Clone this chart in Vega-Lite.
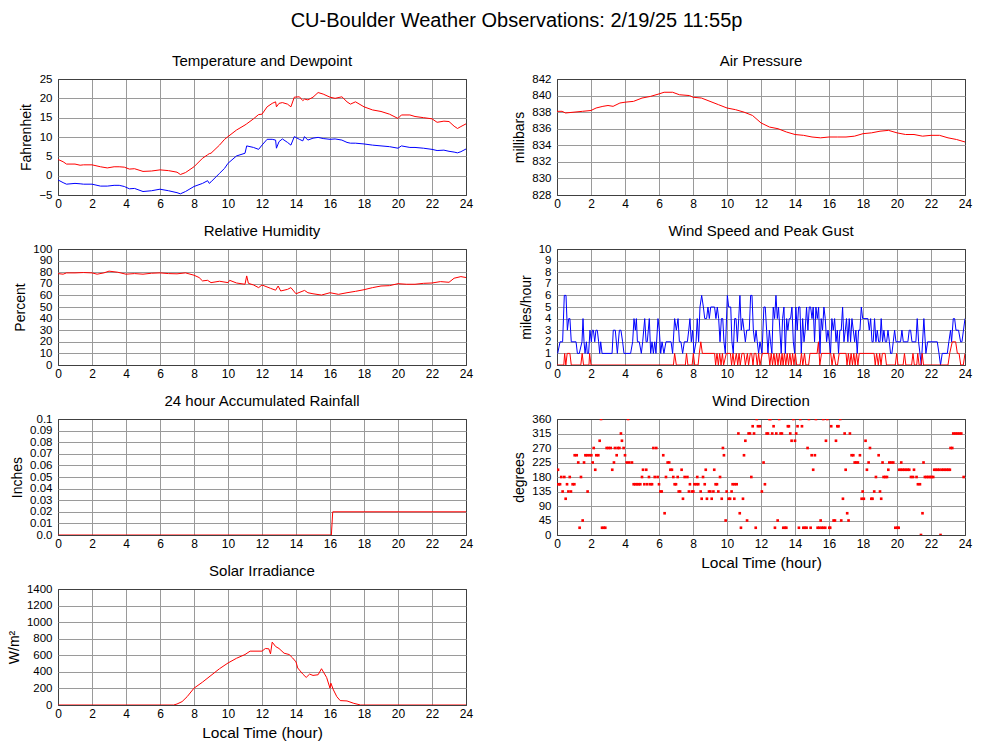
{
"$schema": "https://vega.github.io/schema/vega-lite/v6.json",
"title": {"text": "CU-Boulder Weather Observations: 2/19/25 11:55p", "fontSize": 20, "fontWeight": "normal", "anchor": "middle", "offset": 23, "dx": 27},
"padding": {"left": 6, "top": 10, "right": 5, "bottom": 5},
"columns": 2,
"spacing": {"row": 54, "column": 91},
"bounds": "flush",
"config": {
  "font": "Liberation Sans",
  "view": {"stroke": "#404040", "strokeWidth": 1},
  "axis": {"grid": true, "gridOpacity": 1, "gridWidth": 1, "ticks": false, "domain": false, "labelFontSize": 11.5, "labelColor": "#000", "labelPadding": 6, "labelFlush": false, "labelOverlap": false, "labelBaseline": "middle", "titleFontSize": 14, "titleFontWeight": "normal", "titleColor": "#000", "titlePadding": 5},
  "axisX": {"labelPadding": 3, "labelBaseline": "top", "labelFontSize": 12},
  "title": {"fontSize": 15, "fontWeight": "normal", "color": "#000", "offset": 4}
},
"datasets": {
"temp": [
{"h":0,"t":4.2,"d":-1.1},{"h":0.3,"t":3.6,"d":-1.8},{"h":0.5,"t":3.0,"d":-2.2},{"h":1.0,"t":3.0,"d":-2.0},{"h":1.3,"t":2.7,"d":-2.1},{"h":1.5,"t":2.8,"d":-2.2},{"h":2.0,"t":2.8,"d":-2.2},{"h":2.5,"t":2.3,"d":-2.7},{"h":2.9,"t":2.0,"d":-2.7},{"h":3.3,"t":2.3,"d":-2.5},{"h":3.6,"t":2.3,"d":-2.5},{"h":3.9,"t":2.2,"d":-2.8},{"h":4.2,"t":1.7,"d":-3.4},{"h":4.5,"t":1.8,"d":-3.3},{"h":5.0,"t":1.1,"d":-4.1},{"h":5.5,"t":1.2,"d":-3.9},{"h":6.0,"t":1.5,"d":-3.5},{"h":6.5,"t":1.3,"d":-3.9},{"h":7.0,"t":0.9,"d":-4.4},{"h":7.2,"t":0.3,"d":-4.7},{"h":7.5,"t":0.8,"d":-4.1},{"h":8.0,"t":2.3,"d":-2.8},{"h":8.5,"t":4.5,"d":-2.0},{"h":8.8,"t":5.4,"d":-1.3},{"h":8.9,"t":5.7,"d":-2.0},{"h":9.0,"t":5.8,"d":-1.6},{"h":9.5,"t":7.9,"d":0.6},{"h":9.8,"t":9.4,"d":1.9},{"h":10.0,"t":10.1,"d":3.2},{"h":10.5,"t":11.8,"d":5.1},{"h":11.0,"t":13.1,"d":5.8},{"h":11.1,"t":13.4,"d":7.7},{"h":11.5,"t":14.7,"d":7.3},{"h":11.8,"t":15.8,"d":6.8},{"h":12.0,"t":15.9,"d":7.9},{"h":12.3,"t":17.8,"d":9.4},{"h":12.6,"t":18.7,"d":9.4},{"h":12.8,"t":19.1,"d":9.2},{"h":12.85,"t":17.8,"d":7.1},{"h":13.0,"t":18.7,"d":8.8},{"h":13.2,"t":18.9,"d":9.5},{"h":13.5,"t":18.5,"d":8.6},{"h":13.7,"t":17.8,"d":7.9},{"h":13.9,"t":20.3,"d":10.1},{"h":14.2,"t":20.4,"d":9.4},{"h":14.4,"t":19.4,"d":9.0},{"h":14.5,"t":19.8,"d":10.1},{"h":14.7,"t":19.6,"d":9.2},{"h":15.0,"t":20.3,"d":9.7},{"h":15.3,"t":21.5,"d":9.9},{"h":15.6,"t":21.1,"d":9.6},{"h":16.0,"t":20.3,"d":9.4},{"h":16.3,"t":20.0,"d":9.5},{"h":16.7,"t":20.4,"d":9.2},{"h":17.0,"t":19.1,"d":8.6},{"h":17.2,"t":18.5,"d":8.4},{"h":17.5,"t":19.1,"d":8.4},{"h":18.0,"t":17.8,"d":8.2},{"h":18.5,"t":17.0,"d":7.9},{"h":19.0,"t":16.6,"d":7.7},{"h":19.5,"t":15.9,"d":7.5},{"h":20.0,"t":14.8,"d":7.1},{"h":20.2,"t":15.7,"d":7.7},{"h":20.7,"t":15.7,"d":7.3},{"h":21.0,"t":15.3,"d":7.3},{"h":21.5,"t":15.0,"d":7.1},{"h":22.0,"t":14.7,"d":6.8},{"h":22.3,"t":13.8,"d":6.5},{"h":22.7,"t":14.1,"d":6.6},{"h":23.0,"t":14.0,"d":6.3},{"h":23.3,"t":12.8,"d":6.1},{"h":23.5,"t":12.2,"d":5.9},{"h":23.7,"t":12.7,"d":6.2},{"h":24.0,"t":13.4,"d":6.9}
],
"pres": [
{"h":0,"p":838.1},{"h":0.3,"p":838.1},{"h":0.5,"p":837.9},{"h":1.0,"p":838.0},{"h":1.5,"p":838.1},{"h":2.0,"p":838.2},{"h":2.3,"p":838.5},{"h":2.7,"p":838.7},{"h":3.0,"p":838.8},{"h":3.3,"p":838.7},{"h":3.7,"p":839.1},{"h":4.0,"p":839.2},{"h":4.5,"p":839.3},{"h":5.0,"p":839.7},{"h":5.5,"p":839.9},{"h":6.0,"p":840.2},{"h":6.3,"p":840.4},{"h":6.8,"p":840.4},{"h":7.2,"p":840.1},{"h":7.8,"p":840.0},{"h":8.0,"p":839.8},{"h":8.5,"p":839.7},{"h":9.0,"p":839.3},{"h":9.5,"p":838.9},{"h":10.0,"p":838.5},{"h":10.5,"p":838.3},{"h":11.0,"p":838.0},{"h":11.5,"p":837.6},{"h":12.0,"p":836.7},{"h":12.5,"p":836.2},{"h":13.0,"p":836.0},{"h":13.5,"p":835.6},{"h":14.0,"p":835.3},{"h":14.5,"p":835.2},{"h":15.0,"p":835.0},{"h":15.5,"p":834.9},{"h":16.0,"p":835.0},{"h":16.5,"p":835.0},{"h":17.0,"p":835.0},{"h":17.5,"p":835.1},{"h":18.0,"p":835.4},{"h":18.5,"p":835.5},{"h":19.0,"p":835.7},{"h":19.5,"p":835.8},{"h":20.0,"p":835.5},{"h":20.5,"p":835.3},{"h":21.0,"p":835.3},{"h":21.5,"p":835.1},{"h":22.0,"p":835.2},{"h":22.5,"p":835.2},{"h":23.0,"p":834.9},{"h":23.5,"p":834.7},{"h":24.0,"p":834.4}
],
"rh": [
{"h":0,"r":78.8},{"h":0.3,"r":78.3},{"h":0.5,"r":79.4},{"h":1.0,"r":79.4},{"h":1.5,"r":79.7},{"h":2.0,"r":79.4},{"h":2.3,"r":78.3},{"h":2.7,"r":79.4},{"h":3.0,"r":80.9},{"h":3.5,"r":80.0},{"h":4.0,"r":78.3},{"h":4.5,"r":78.8},{"h":5.0,"r":78.3},{"h":5.5,"r":79.1},{"h":6.0,"r":79.4},{"h":6.5,"r":78.8},{"h":7.0,"r":78.6},{"h":7.5,"r":79.4},{"h":8.0,"r":77.4},{"h":8.3,"r":75.4},{"h":8.5,"r":72.5},{"h":8.8,"r":73.0},{"h":9.0,"r":71.0},{"h":9.5,"r":72.2},{"h":10.0,"r":71.0},{"h":10.1,"r":73.0},{"h":10.5,"r":70.7},{"h":11.0,"r":69.6},{"h":11.1,"r":76.8},{"h":11.2,"r":70.4},{"h":11.5,"r":69.0},{"h":11.8,"r":66.7},{"h":12.0,"r":69.0},{"h":12.5,"r":66.1},{"h":12.8,"r":64.5},{"h":12.95,"r":68.1},{"h":13.1,"r":63.8},{"h":13.5,"r":65.2},{"h":13.7,"r":66.7},{"h":14.0,"r":61.4},{"h":14.5,"r":64.3},{"h":14.7,"r":62.3},{"h":15.0,"r":61.4},{"h":15.5,"r":60.3},{"h":16.0,"r":62.3},{"h":16.5,"r":60.9},{"h":17.0,"r":62.3},{"h":17.5,"r":63.5},{"h":18.0,"r":64.9},{"h":18.5,"r":66.7},{"h":19.0,"r":68.1},{"h":19.5,"r":68.4},{"h":20.0,"r":70.1},{"h":20.5,"r":69.6},{"h":21.0,"r":69.6},{"h":21.5,"r":70.4},{"h":22.0,"r":70.7},{"h":22.5,"r":71.9},{"h":23.0,"r":71.3},{"h":23.3,"r":74.8},{"h":23.7,"r":76.2},{"h":24.0,"r":75.4}
],
"gust": [
{"h":0.04,"v":1},{"h":0.18,"v":2},{"h":0.33,"v":2},{"h":0.43,"v":6},{"h":0.53,"v":6},{"h":0.61,"v":3},{"h":0.69,"v":4},{"h":0.76,"v":4},{"h":0.84,"v":2},{"h":1.12,"v":2},{"h":1.2,"v":1},{"h":1.31,"v":1},{"h":1.47,"v":2},{"h":1.53,"v":4},{"h":1.59,"v":2},{"h":1.65,"v":1},{"h":1.73,"v":2},{"h":1.78,"v":1},{"h":1.86,"v":1},{"h":1.94,"v":3},{"h":2.02,"v":2},{"h":2.08,"v":3},{"h":2.14,"v":3},{"h":2.22,"v":2},{"h":2.29,"v":3},{"h":2.37,"v":3},{"h":2.45,"v":2},{"h":2.51,"v":1},{"h":2.57,"v":2},{"h":2.65,"v":1},{"h":3.24,"v":1},{"h":3.31,"v":3},{"h":3.43,"v":3},{"h":3.55,"v":1},{"h":3.67,"v":3},{"h":3.76,"v":3},{"h":3.86,"v":2},{"h":3.94,"v":1},{"h":4.33,"v":1},{"h":4.45,"v":2},{"h":4.53,"v":4},{"h":4.61,"v":3},{"h":4.67,"v":4},{"h":4.73,"v":2},{"h":4.84,"v":2},{"h":4.96,"v":1},{"h":5.04,"v":2},{"h":5.16,"v":4},{"h":5.24,"v":2},{"h":5.31,"v":2},{"h":5.43,"v":4},{"h":5.51,"v":1},{"h":5.59,"v":2},{"h":5.67,"v":1},{"h":5.75,"v":2},{"h":5.82,"v":1},{"h":5.94,"v":4},{"h":6.02,"v":3},{"h":6.1,"v":1},{"h":6.18,"v":2},{"h":6.29,"v":1},{"h":6.41,"v":2},{"h":6.71,"v":2},{"h":6.8,"v":1},{"h":6.92,"v":4},{"h":7.02,"v":3},{"h":7.12,"v":4},{"h":7.2,"v":2},{"h":7.29,"v":2},{"h":7.39,"v":1},{"h":7.49,"v":2},{"h":7.67,"v":2},{"h":7.75,"v":3},{"h":7.82,"v":4},{"h":7.9,"v":2},{"h":7.98,"v":3},{"h":8.06,"v":1},{"h":8.18,"v":2},{"h":8.25,"v":4},{"h":8.33,"v":2},{"h":8.41,"v":5},{"h":8.51,"v":6},{"h":8.61,"v":5},{"h":8.69,"v":4},{"h":8.8,"v":4},{"h":8.88,"v":5},{"h":8.96,"v":4},{"h":9.04,"v":5},{"h":9.27,"v":5},{"h":9.35,"v":4},{"h":9.43,"v":5},{"h":9.51,"v":4},{"h":9.59,"v":2},{"h":9.67,"v":4},{"h":9.75,"v":4},{"h":9.82,"v":2},{"h":9.9,"v":1},{"h":10.02,"v":6},{"h":10.1,"v":5},{"h":10.22,"v":5},{"h":10.29,"v":2},{"h":10.37,"v":1},{"h":10.45,"v":4},{"h":10.53,"v":4},{"h":10.61,"v":2},{"h":10.69,"v":4},{"h":10.76,"v":6},{"h":10.84,"v":3},{"h":10.92,"v":4},{"h":11.0,"v":3},{"h":11.08,"v":2},{"h":11.16,"v":3},{"h":11.31,"v":3},{"h":11.39,"v":6},{"h":11.47,"v":6},{"h":11.55,"v":3},{"h":11.63,"v":2},{"h":11.71,"v":3},{"h":11.78,"v":2},{"h":11.86,"v":1},{"h":11.94,"v":2},{"h":12.06,"v":1},{"h":12.17,"v":5},{"h":12.25,"v":5},{"h":12.33,"v":3},{"h":12.41,"v":1},{"h":12.49,"v":3},{"h":12.56,"v":2},{"h":12.64,"v":1},{"h":12.72,"v":5},{"h":12.8,"v":4},{"h":12.88,"v":6},{"h":12.96,"v":4},{"h":13.03,"v":5},{"h":13.11,"v":3},{"h":13.19,"v":1},{"h":13.27,"v":4},{"h":13.35,"v":5},{"h":13.43,"v":1},{"h":13.51,"v":4},{"h":13.58,"v":3},{"h":13.66,"v":4},{"h":13.74,"v":4},{"h":13.82,"v":5},{"h":13.9,"v":2},{"h":13.98,"v":1},{"h":14.05,"v":5},{"h":14.13,"v":3},{"h":14.21,"v":5},{"h":14.29,"v":5},{"h":14.37,"v":1},{"h":14.45,"v":4},{"h":14.53,"v":2},{"h":14.6,"v":3},{"h":14.68,"v":5},{"h":14.76,"v":3},{"h":14.84,"v":5},{"h":14.92,"v":5},{"h":15.0,"v":4},{"h":15.07,"v":5},{"h":15.15,"v":2},{"h":15.23,"v":5},{"h":15.31,"v":4},{"h":15.39,"v":5},{"h":15.47,"v":1},{"h":15.54,"v":4},{"h":15.62,"v":3},{"h":15.7,"v":5},{"h":15.78,"v":4},{"h":15.86,"v":2},{"h":15.94,"v":3},{"h":16.02,"v":2},{"h":16.09,"v":1},{"h":16.17,"v":4},{"h":16.25,"v":3},{"h":16.33,"v":4},{"h":16.41,"v":2},{"h":16.49,"v":3},{"h":16.56,"v":1},{"h":16.64,"v":3},{"h":16.72,"v":3},{"h":16.8,"v":5},{"h":16.88,"v":2},{"h":16.96,"v":3},{"h":17.03,"v":4},{"h":17.11,"v":2},{"h":17.19,"v":4},{"h":17.27,"v":2},{"h":17.35,"v":4},{"h":17.43,"v":3},{"h":17.51,"v":2},{"h":17.58,"v":3},{"h":17.66,"v":1},{"h":17.74,"v":3},{"h":17.82,"v":3},{"h":17.9,"v":5},{"h":17.98,"v":4},{"h":18.05,"v":4},{"h":18.29,"v":4},{"h":18.37,"v":3},{"h":18.45,"v":4},{"h":18.53,"v":2},{"h":18.6,"v":2},{"h":18.68,"v":4},{"h":18.76,"v":2},{"h":18.84,"v":3},{"h":18.92,"v":2},{"h":19.0,"v":2},{"h":19.07,"v":4},{"h":19.15,"v":2},{"h":19.23,"v":3},{"h":19.31,"v":2},{"h":19.39,"v":2},{"h":19.47,"v":3},{"h":19.55,"v":2},{"h":19.62,"v":1},{"h":19.7,"v":1},{"h":19.78,"v":2},{"h":19.86,"v":3},{"h":19.94,"v":2},{"h":20.21,"v":2},{"h":20.29,"v":3},{"h":20.37,"v":2},{"h":20.64,"v":2},{"h":20.72,"v":3},{"h":20.8,"v":3},{"h":20.88,"v":2},{"h":21.11,"v":2},{"h":21.19,"v":4},{"h":21.27,"v":2},{"h":21.35,"v":1},{"h":21.43,"v":0},{"h":21.58,"v":4},{"h":21.7,"v":1},{"h":21.8,"v":2},{"h":22.37,"v":2},{"h":22.47,"v":1},{"h":22.56,"v":0},{"h":22.66,"v":1},{"h":22.96,"v":1},{"h":23.05,"v":2},{"h":23.15,"v":3},{"h":23.21,"v":2},{"h":23.31,"v":4},{"h":23.39,"v":4},{"h":23.47,"v":3},{"h":23.62,"v":3},{"h":23.74,"v":2},{"h":23.82,"v":2},{"h":24.0,"v":4}
],
"speed": [
{"h":0,"v":0},{"h":0.4,"v":0},{"h":0.45,"v":1},{"h":0.52,"v":0},{"h":0.6,"v":1},{"h":0.76,"v":1},{"h":0.84,"v":0},{"h":1.4,"v":0},{"h":1.48,"v":1},{"h":1.56,"v":0},{"h":1.88,"v":0},{"h":1.92,"v":1},{"h":2.0,"v":0},{"h":6.85,"v":0},{"h":6.92,"v":1},{"h":7.02,"v":0},{"h":7.55,"v":0},{"h":7.62,"v":1},{"h":7.7,"v":0},{"h":7.95,"v":0},{"h":8.02,"v":1},{"h":8.1,"v":0},{"h":8.3,"v":0},{"h":8.37,"v":1},{"h":8.46,"v":2},{"h":8.55,"v":1},{"h":9.27,"v":1},{"h":9.33,"v":0},{"h":9.41,"v":1},{"h":9.49,"v":0},{"h":9.57,"v":1},{"h":9.65,"v":0},{"h":9.73,"v":1},{"h":9.8,"v":0},{"h":9.96,"v":1},{"h":10.2,"v":1},{"h":10.27,"v":0},{"h":10.35,"v":1},{"h":10.43,"v":0},{"h":10.55,"v":1},{"h":10.63,"v":0},{"h":10.71,"v":1},{"h":10.78,"v":0},{"h":10.88,"v":1},{"h":11.0,"v":1},{"h":11.08,"v":0},{"h":11.2,"v":1},{"h":11.27,"v":0},{"h":11.37,"v":1},{"h":11.45,"v":1},{"h":11.53,"v":0},{"h":11.6,"v":1},{"h":11.7,"v":1},{"h":11.78,"v":0},{"h":11.86,"v":1},{"h":11.94,"v":0},{"h":12.08,"v":1},{"h":12.45,"v":1},{"h":12.52,"v":0},{"h":12.6,"v":1},{"h":12.68,"v":0},{"h":12.76,"v":1},{"h":12.84,"v":0},{"h":12.92,"v":1},{"h":13.0,"v":0},{"h":13.08,"v":1},{"h":13.16,"v":0},{"h":13.24,"v":1},{"h":13.3,"v":0},{"h":13.38,"v":1},{"h":13.46,"v":0},{"h":13.54,"v":1},{"h":13.62,"v":0},{"h":13.7,"v":1},{"h":13.78,"v":0},{"h":13.86,"v":1},{"h":13.94,"v":0},{"h":14.02,"v":1},{"h":14.1,"v":0},{"h":14.3,"v":0},{"h":14.38,"v":1},{"h":14.46,"v":0},{"h":14.56,"v":1},{"h":14.64,"v":0},{"h":14.8,"v":0},{"h":14.88,"v":1},{"h":15.3,"v":1},{"h":15.38,"v":2},{"h":15.46,"v":0},{"h":15.56,"v":1},{"h":16.1,"v":1},{"h":16.18,"v":0},{"h":16.28,"v":1},{"h":16.4,"v":0},{"h":16.5,"v":0},{"h":16.6,"v":1},{"h":17.0,"v":1},{"h":17.06,"v":0},{"h":17.14,"v":1},{"h":17.22,"v":0},{"h":17.3,"v":1},{"h":17.38,"v":0},{"h":17.46,"v":1},{"h":17.54,"v":0},{"h":17.62,"v":1},{"h":17.7,"v":0},{"h":17.78,"v":1},{"h":18.65,"v":1},{"h":18.72,"v":0},{"h":18.8,"v":1},{"h":18.9,"v":0},{"h":18.98,"v":1},{"h":19.06,"v":0},{"h":19.14,"v":1},{"h":19.3,"v":1},{"h":19.38,"v":0},{"h":19.9,"v":0},{"h":19.98,"v":1},{"h":20.06,"v":0},{"h":20.36,"v":0},{"h":20.44,"v":1},{"h":20.52,"v":0},{"h":20.86,"v":0},{"h":20.94,"v":1},{"h":21.02,"v":0},{"h":21.16,"v":0},{"h":21.22,"v":1},{"h":21.3,"v":0},{"h":21.42,"v":0},{"h":21.48,"v":1},{"h":21.56,"v":0},{"h":23.0,"v":0},{"h":23.1,"v":1},{"h":23.25,"v":2},{"h":23.45,"v":2},{"h":23.55,"v":1},{"h":23.65,"v":1},{"h":23.75,"v":0},{"h":23.9,"v":0},{"h":24.0,"v":1}
],
"rain": [
{"h":0,"r":0},{"h":16.08,"r":0},{"h":16.16,"r":0.02},{"h":24,"r":0.02}
],
"dir": [
{"h":2.59,"d":360},{"h":4.18,"d":360},{"h":11.75,"d":360},{"h":12.49,"d":360},{"h":12.56,"d":360},{"h":13.07,"d":360},{"h":13.9,"d":360},{"h":14.31,"d":360},{"h":14.82,"d":360},{"h":15.23,"d":360},{"h":15.66,"d":360},{"h":15.9,"d":360},{"h":16.66,"d":360},
{"h":11.51,"d":337.5},{"h":11.82,"d":337.5},{"h":11.94,"d":337.5},{"h":12.74,"d":337.5},{"h":13.58,"d":337.5},{"h":13.64,"d":337.5},{"h":14.15,"d":337.5},{"h":14.41,"d":337.5},{"h":16.13,"d":337.5},{"h":16.49,"d":337.5},{"h":16.56,"d":337.5},
{"h":3.76,"d":315},{"h":10.67,"d":315},{"h":11.27,"d":315},{"h":11.35,"d":315},{"h":11.59,"d":315},{"h":12.33,"d":315},{"h":12.41,"d":315},{"h":12.66,"d":315},{"h":12.9,"d":315},{"h":13.15,"d":315},{"h":13.23,"d":315},{"h":13.72,"d":315},{"h":14.07,"d":315},{"h":16.92,"d":315},{"h":17.23,"d":315},{"h":23.31,"d":315},{"h":23.43,"d":315},{"h":23.54,"d":315},{"h":23.66,"d":315},{"h":23.78,"d":315},
{"h":2.51,"d":292.5},{"h":3.82,"d":292.5},{"h":11.08,"d":292.5},{"h":13.8,"d":292.5},{"h":14.0,"d":292.5},{"h":15.82,"d":292.5},{"h":16.41,"d":292.5},{"h":18.15,"d":292.5},
{"h":2.16,"d":270},{"h":2.92,"d":270},{"h":3.04,"d":270},{"h":3.16,"d":270},{"h":3.41,"d":270},{"h":3.57,"d":270},{"h":3.67,"d":270},{"h":3.92,"d":270},{"h":5.67,"d":270},{"h":5.84,"d":270},{"h":9.76,"d":270},{"h":14.74,"d":270},{"h":18.41,"d":270},{"h":23.15,"d":270},{"h":23.25,"d":270},
{"h":1.04,"d":247.5},{"h":1.16,"d":247.5},{"h":1.67,"d":247.5},{"h":1.76,"d":247.5},{"h":1.9,"d":247.5},{"h":2.02,"d":247.5},{"h":2.31,"d":247.5},{"h":2.43,"d":247.5},{"h":3.51,"d":247.5},{"h":4.0,"d":247.5},{"h":6.25,"d":247.5},{"h":9.82,"d":247.5},{"h":11.0,"d":247.5},{"h":14.98,"d":247.5},{"h":15.17,"d":247.5},{"h":17.33,"d":247.5},{"h":17.43,"d":247.5},{"h":17.82,"d":247.5},{"h":18.92,"d":247.5},
{"h":1.25,"d":225},{"h":1.59,"d":225},{"h":2.1,"d":225},{"h":3.35,"d":225},{"h":4.1,"d":225},{"h":4.25,"d":225},{"h":4.41,"d":225},{"h":6.51,"d":225},{"h":6.6,"d":225},{"h":12.15,"d":225},{"h":17.51,"d":225},{"h":17.6,"d":225},{"h":17.7,"d":225},{"h":18.33,"d":225},{"h":19.15,"d":225},{"h":19.55,"d":225},{"h":19.66,"d":225},{"h":19.78,"d":225},{"h":20.25,"d":225},{"h":21.56,"d":225},
{"h":0.06,"d":202.5},{"h":2.25,"d":202.5},{"h":3.25,"d":202.5},{"h":5.06,"d":202.5},{"h":5.25,"d":202.5},{"h":6.67,"d":202.5},{"h":6.76,"d":202.5},{"h":7.33,"d":202.5},{"h":8.75,"d":202.5},{"h":9.25,"d":202.5},{"h":15.07,"d":202.5},{"h":16.98,"d":202.5},{"h":18.23,"d":202.5},{"h":19.49,"d":202.5},{"h":20.13,"d":202.5},{"h":20.23,"d":202.5},{"h":20.33,"d":202.5},{"h":20.43,"d":202.5},{"h":20.53,"d":202.5},{"h":20.63,"d":202.5},{"h":20.72,"d":202.5},{"h":21.0,"d":202.5},{"h":22.19,"d":202.5},{"h":22.29,"d":202.5},{"h":22.39,"d":202.5},{"h":22.49,"d":202.5},{"h":22.62,"d":202.5},{"h":22.72,"d":202.5},{"h":22.82,"d":202.5},{"h":22.92,"d":202.5},{"h":23.02,"d":202.5},{"h":23.11,"d":202.5},
{"h":0.25,"d":180},{"h":0.43,"d":180},{"h":0.75,"d":180},{"h":1.41,"d":180},{"h":5.0,"d":180},{"h":5.41,"d":180},{"h":5.75,"d":180},{"h":5.92,"d":180},{"h":6.41,"d":180},{"h":6.84,"d":180},{"h":7.1,"d":180},{"h":7.51,"d":180},{"h":7.67,"d":180},{"h":8.25,"d":180},{"h":8.59,"d":180},{"h":9.59,"d":180},{"h":11.43,"d":180},{"h":18.76,"d":180},{"h":19.21,"d":180},{"h":19.31,"d":180},{"h":19.41,"d":180},{"h":20.82,"d":180},{"h":20.94,"d":180},{"h":21.15,"d":180},{"h":21.64,"d":180},{"h":21.74,"d":180},{"h":21.84,"d":180},{"h":21.94,"d":180},{"h":22.03,"d":180},{"h":22.13,"d":180},{"h":23.92,"d":180},
{"h":0.0,"d":157.5},{"h":0.1,"d":157.5},{"h":0.18,"d":157.5},{"h":0.59,"d":157.5},{"h":0.92,"d":157.5},{"h":1.02,"d":157.5},{"h":4.51,"d":157.5},{"h":4.61,"d":157.5},{"h":4.71,"d":157.5},{"h":4.8,"d":157.5},{"h":4.9,"d":157.5},{"h":5.14,"d":157.5},{"h":5.31,"d":157.5},{"h":5.49,"d":157.5},{"h":5.59,"d":157.5},{"h":6.0,"d":157.5},{"h":6.92,"d":157.5},{"h":7.0,"d":157.5},{"h":7.82,"d":157.5},{"h":8.08,"d":157.5},{"h":8.2,"d":157.5},{"h":8.31,"d":157.5},{"h":8.69,"d":157.5},{"h":9.33,"d":157.5},{"h":9.41,"d":157.5},{"h":10.33,"d":157.5},{"h":10.45,"d":157.5},{"h":10.57,"d":157.5},{"h":12.23,"d":157.5},{"h":21.23,"d":157.5},{"h":21.35,"d":157.5},
{"h":0.33,"d":135},{"h":0.67,"d":135},{"h":0.82,"d":135},{"h":1.8,"d":135},{"h":6.08,"d":135},{"h":6.16,"d":135},{"h":7.16,"d":135},{"h":7.24,"d":135},{"h":7.76,"d":135},{"h":7.94,"d":135},{"h":8.02,"d":135},{"h":8.45,"d":135},{"h":8.94,"d":135},{"h":9.02,"d":135},{"h":9.2,"d":135},{"h":9.49,"d":135},{"h":9.98,"d":135},{"h":10.27,"d":135},{"h":12.05,"d":135},{"h":17.98,"d":135},{"h":18.66,"d":135},{"h":19.0,"d":135},
{"h":0.51,"d":112.5},{"h":7.41,"d":112.5},{"h":8.51,"d":112.5},{"h":8.82,"d":112.5},{"h":9.1,"d":112.5},{"h":9.69,"d":112.5},{"h":10.1,"d":112.5},{"h":10.18,"d":112.5},{"h":10.43,"d":112.5},{"h":10.94,"d":112.5},{"h":16.82,"d":112.5},{"h":17.92,"d":112.5},{"h":18.05,"d":112.5},{"h":18.49,"d":112.5},{"h":18.56,"d":112.5},{"h":19.07,"d":112.5},
{"h":6.33,"d":67.5},{"h":10.75,"d":67.5},{"h":17.07,"d":67.5},{"h":21.5,"d":67.5},
{"h":1.51,"d":45},{"h":9.92,"d":45},{"h":11.18,"d":45},{"h":12.98,"d":45},{"h":15.51,"d":45},{"h":16.27,"d":45},{"h":16.35,"d":45},{"h":16.72,"d":45},{"h":17.15,"d":45},
{"h":1.33,"d":22.5},{"h":2.65,"d":22.5},{"h":2.75,"d":22.5},{"h":2.84,"d":22.5},{"h":10.82,"d":22.5},{"h":11.69,"d":22.5},{"h":12.82,"d":22.5},{"h":13.31,"d":22.5},{"h":13.41,"d":22.5},{"h":13.49,"d":22.5},{"h":14.23,"d":22.5},{"h":14.49,"d":22.5},{"h":14.58,"d":22.5},{"h":14.68,"d":22.5},{"h":14.92,"d":22.5},{"h":15.33,"d":22.5},{"h":15.43,"d":22.5},{"h":15.56,"d":22.5},{"h":15.66,"d":22.5},{"h":15.78,"d":22.5},{"h":16.02,"d":22.5},{"h":16.07,"d":22.5},{"h":19.9,"d":22.5},{"h":20.02,"d":22.5},{"h":20.1,"d":22.5},
{"h":21.41,"d":0},{"h":22.56,"d":0}
],
"solar": [
{"h":0,"s":0},{"h":6.8,"s":0},{"h":7.0,"s":12},{"h":7.3,"s":41},{"h":7.6,"s":101},{"h":8.0,"s":203},{"h":8.5,"s":276},{"h":9.0,"s":357},{"h":9.5,"s":438},{"h":10.0,"s":507},{"h":10.5,"s":564},{"h":11.0,"s":609},{"h":11.3,"s":650},{"h":12.0,"s":650},{"h":12.2,"s":682},{"h":12.4,"s":678},{"h":12.5,"s":617},{"h":12.6,"s":759},{"h":12.8,"s":706},{"h":13.0,"s":682},{"h":13.3,"s":625},{"h":13.6,"s":609},{"h":13.8,"s":568},{"h":14.0,"s":520},{"h":14.1,"s":447},{"h":14.4,"s":373},{"h":14.6,"s":333},{"h":14.8,"s":373},{"h":15.0,"s":357},{"h":15.3,"s":365},{"h":15.5,"s":438},{"h":15.8,"s":333},{"h":16.0,"s":203},{"h":16.05,"s":264},{"h":16.2,"s":183},{"h":16.4,"s":101},{"h":16.6,"s":53},{"h":17.0,"s":49},{"h":17.4,"s":20},{"h":17.8,"s":0},{"h":24,"s":0}
]
},
"concat": [
{
 "title": "Temperature and Dewpoint", "width": 408, "height": 116,
 "data": {"name": "temp"},
 "layer": [
  {"mark": {"type": "line", "color": "#ff0000", "strokeWidth": 1, "clip": true},
   "encoding": {
    "x": {"field": "h", "type": "quantitative", "scale": {"domain": [0, 24], "nice": false, "zero": false}, "axis": {"title": null, "values": [0,2,4,6,8,10,12,14,16,18,20,22,24], "gridColor": {"condition": {"test": "datum.value == 0 || datum.value == 24", "value": "#404040"}, "value": "#9a9a9a"}}},
    "y": {"field": "t", "type": "quantitative", "scale": {"domain": [-5, 25], "nice": false, "zero": false}, "axis": {"title": "Fahrenheit", "values": [-5,0,5,10,15,20,25], "gridColor": {"condition": {"test": "datum.value == -5 || datum.value == 25", "value": "#404040"}, "value": "#9a9a9a"}}}
   }},
  {"mark": {"type": "line", "color": "#0000ff", "strokeWidth": 1, "clip": true},
   "encoding": {
    "x": {"field": "h", "type": "quantitative", "scale": {"domain": [0, 24], "nice": false, "zero": false}, "axis": {"title": null, "values": [0,2,4,6,8,10,12,14,16,18,20,22,24], "gridColor": {"condition": {"test": "datum.value == 0 || datum.value == 24", "value": "#404040"}, "value": "#9a9a9a"}}},
    "y": {"field": "d", "type": "quantitative", "scale": {"domain": [-5, 25], "nice": false, "zero": false}, "axis": {"title": "Fahrenheit", "values": [-5,0,5,10,15,20,25], "gridColor": {"condition": {"test": "datum.value == -5 || datum.value == 25", "value": "#404040"}, "value": "#9a9a9a"}}}
   }}
 ]
},
{
 "title": "Air Pressure", "width": 408, "height": 116,
 "data": {"name": "pres"},
 "mark": {"type": "line", "color": "#ff0000", "strokeWidth": 1, "clip": true},
 "encoding": {
  "x": {"field": "h", "type": "quantitative", "scale": {"domain": [0, 24], "nice": false, "zero": false}, "axis": {"title": null, "values": [0,2,4,6,8,10,12,14,16,18,20,22,24], "gridColor": {"condition": {"test": "datum.value == 0 || datum.value == 24", "value": "#404040"}, "value": "#9a9a9a"}}},
  "y": {"field": "p", "type": "quantitative", "scale": {"domain": [828, 842], "nice": false, "zero": false}, "axis": {"title": "millibars", "values": [828,830,832,834,836,838,840,842], "gridColor": {"condition": {"test": "datum.value == 828 || datum.value == 842", "value": "#404040"}, "value": "#9a9a9a"}}}
 }
},
{
 "title": "Relative Humidity", "width": 408, "height": 116,
 "data": {"name": "rh"},
 "mark": {"type": "line", "color": "#ff0000", "strokeWidth": 1, "clip": true},
 "encoding": {
  "x": {"field": "h", "type": "quantitative", "scale": {"domain": [0, 24], "nice": false, "zero": false}, "axis": {"title": null, "values": [0,2,4,6,8,10,12,14,16,18,20,22,24], "gridColor": {"condition": {"test": "datum.value == 0 || datum.value == 24", "value": "#404040"}, "value": "#9a9a9a"}}},
  "y": {"field": "r", "type": "quantitative", "scale": {"domain": [0, 100], "nice": false}, "axis": {"title": "Percent", "values": [0,10,20,30,40,50,60,70,80,90,100], "gridColor": {"condition": {"test": "datum.value == 0 || datum.value == 100", "value": "#404040"}, "value": "#9a9a9a"}}}
 }
},
{
 "title": "Wind Speed and Peak Gust", "width": 408, "height": 116,
 "layer": [
  {"data": {"name": "gust"},
   "mark": {"type": "line", "color": "#0000ff", "strokeWidth": 1, "clip": true},
   "encoding": {
    "x": {"field": "h", "type": "quantitative", "scale": {"domain": [0, 24], "nice": false, "zero": false}, "axis": {"title": null, "values": [0,2,4,6,8,10,12,14,16,18,20,22,24], "gridColor": {"condition": {"test": "datum.value == 0 || datum.value == 24", "value": "#404040"}, "value": "#9a9a9a"}}},
    "y": {"field": "v", "type": "quantitative", "scale": {"domain": [0, 10], "nice": false}, "axis": {"title": "miles/hour", "values": [0,1,2,3,4,5,6,7,8,9,10], "gridColor": {"condition": {"test": "datum.value == 0 || datum.value == 10", "value": "#404040"}, "value": "#9a9a9a"}}}
   }},
  {"data": {"name": "speed"},
   "mark": {"type": "line", "color": "#ff0000", "strokeWidth": 1, "clip": true},
   "encoding": {
    "x": {"field": "h", "type": "quantitative", "scale": {"domain": [0, 24], "nice": false, "zero": false}, "axis": {"title": null, "values": [0,2,4,6,8,10,12,14,16,18,20,22,24], "gridColor": {"condition": {"test": "datum.value == 0 || datum.value == 24", "value": "#404040"}, "value": "#9a9a9a"}}},
    "y": {"field": "v", "type": "quantitative", "scale": {"domain": [0, 10], "nice": false}, "axis": {"title": "miles/hour", "values": [0,1,2,3,4,5,6,7,8,9,10], "gridColor": {"condition": {"test": "datum.value == 0 || datum.value == 10", "value": "#404040"}, "value": "#9a9a9a"}}}
   }}
 ]
},
{
 "title": "24 hour Accumulated Rainfall", "width": 408, "height": 116,
 "data": {"name": "rain"},
 "mark": {"type": "line", "color": "#ff0000", "strokeWidth": 1, "clip": true},
 "encoding": {
  "x": {"field": "h", "type": "quantitative", "scale": {"domain": [0, 24], "nice": false, "zero": false}, "axis": {"title": null, "values": [0,2,4,6,8,10,12,14,16,18,20,22,24], "gridColor": {"condition": {"test": "datum.value == 0 || datum.value == 24", "value": "#404040"}, "value": "#9a9a9a"}}},
  "y": {"field": "r", "type": "quantitative", "scale": {"domain": [0, 0.1], "nice": false}, "axis": {"title": "Inches", "values": [0,0.01,0.02,0.03,0.04,0.05,0.06,0.07,0.08,0.09,0.1], "labelExpr": "datum.value == 0 ? '0.0' : format(datum.value, '.2~f')", "gridColor": {"condition": {"test": "datum.value == 0 || datum.value > 0.099", "value": "#404040"}, "value": "#9a9a9a"}}}
 }
},
{
 "title": "Wind Direction", "width": 408, "height": 116,
 "data": {"name": "dir"},
 "mark": {"type": "square", "color": "#ff0000", "size": 7, "opacity": 1, "filled": true, "clip": true},
 "encoding": {
  "x": {"field": "h", "type": "quantitative", "scale": {"domain": [0, 24], "nice": false, "zero": false}, "axis": {"title": "Local Time (hour)", "titleFontSize": 15.5, "titlePadding": 6, "values": [0,2,4,6,8,10,12,14,16,18,20,22,24], "gridColor": {"condition": {"test": "datum.value == 0 || datum.value == 24", "value": "#404040"}, "value": "#9a9a9a"}}},
  "y": {"field": "d", "type": "quantitative", "scale": {"domain": [0, 360], "nice": false}, "axis": {"title": "degrees", "values": [0,45,90,135,180,225,270,315,360], "gridColor": {"condition": {"test": "datum.value == 0 || datum.value == 360", "value": "#404040"}, "value": "#9a9a9a"}}}
 }
},
{
 "title": "Solar Irradiance", "width": 408, "height": 116,
 "data": {"name": "solar"},
 "mark": {"type": "line", "color": "#ff0000", "strokeWidth": 1, "clip": true},
 "encoding": {
  "x": {"field": "h", "type": "quantitative", "scale": {"domain": [0, 24], "nice": false, "zero": false}, "axis": {"title": "Local Time (hour)", "titleFontSize": 15.5, "titlePadding": 6, "values": [0,2,4,6,8,10,12,14,16,18,20,22,24], "gridColor": {"condition": {"test": "datum.value == 0 || datum.value == 24", "value": "#404040"}, "value": "#9a9a9a"}}},
  "y": {"field": "s", "type": "quantitative", "scale": {"domain": [0, 1400], "nice": false}, "axis": {"title": "W/m²", "format": "d", "values": [0,200,400,600,800,1000,1200,1400], "gridColor": {"condition": {"test": "datum.value == 0 || datum.value == 1400", "value": "#404040"}, "value": "#9a9a9a"}}}
 }
}
]
}
